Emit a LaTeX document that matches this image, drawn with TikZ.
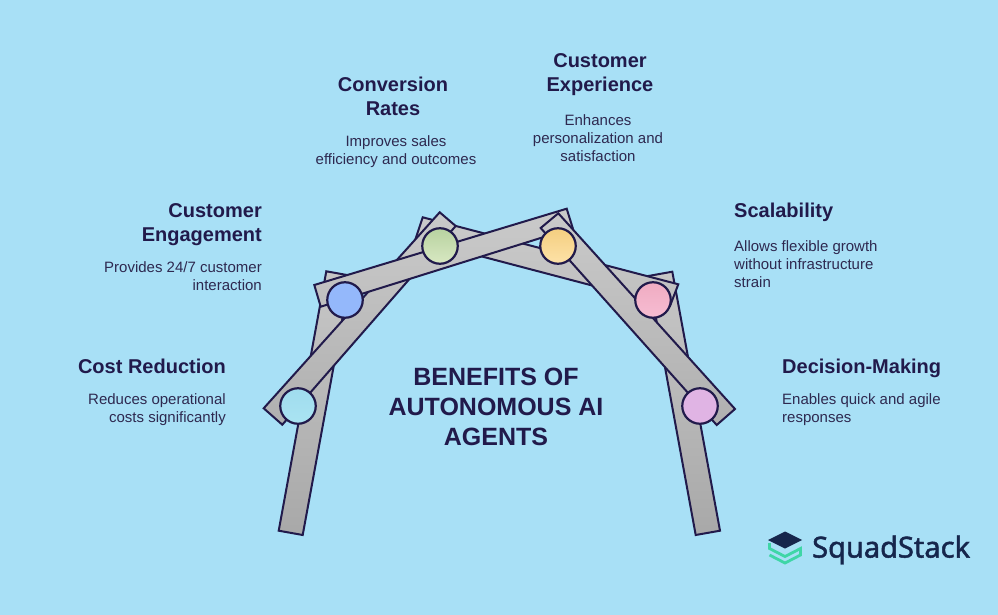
\documentclass[tikz,border=0pt]{standalone}
\usepackage{fontspec}
\setmainfont{Liberation Sans}
\newfontfamily\logofont[FakeBold=1.6]{Noto Sans}
\definecolor{skybg}{HTML}{A8E0F6}
\definecolor{inkdark}{HTML}{211A4B}
\definecolor{bodyink}{HTML}{2E2950}
\definecolor{logonavy}{HTML}{16264C}
\definecolor{logogreen}{HTML}{3FD6A6}
\definecolor{costtop}{HTML}{A0DCEE}
\definecolor{costbot}{HTML}{AAE4F2}
\definecolor{engagecol}{HTML}{94B8FB}
\definecolor{convtop}{HTML}{B8D2A0}
\definecolor{convbot}{HTML}{D8E8C2}
\definecolor{exptop}{HTML}{F4CE80}
\definecolor{expbot}{HTML}{FDE2A8}
\definecolor{scaletop}{HTML}{F0ACC2}
\definecolor{scalebot}{HTML}{F6BCD2}
\definecolor{deccol}{HTML}{E0B4E4}
\tikzset{>=stealth,
  bar/.style={draw=inkdark,line width=2pt},
  hinge/.style={circle,draw=inkdark,line width=2.2pt,minimum size=35.5pt,inner sep=0pt},
  headtext/.style={text=inkdark,font=\fontsize{20}{24}\selectfont\bfseries,inner sep=0pt},
  bodytext/.style={text=bodyink,font=\fontsize{15}{18}\selectfont,inner sep=0pt}
}
\begin{document}
\begin{tikzpicture}[x=1pt,y=-1pt]
    \useasboundingbox[fill=skybg] (0,0) rectangle (998,615);
    % bars, back to front
    \shade[bar,top color=black!22,bottom color=black!34] (326.3,271.3)--(350.3,275.6)--(302.7,535)--(278.7,530.7)--cycle;
    \shade[bar,top color=black!22,bottom color=black!34] (672.3,271.7)--(648.3,276)--(695.7,535)--(720,530.7)--cycle;
    \shade[bar,top color=black!21,bottom color=black!25] (422.7,217.3)--(678.3,284.3)--(670,306)--(415.5,239)--cycle;
    \shade[bar,top color=black!21,bottom color=black!31] (439.7,212.3)--(455.7,226)--(282.3,424.7)--(263.7,408.3)--cycle;
    \shade[bar,top color=black!21,bottom color=black!25] (314.3,285)--(566.7,208.7)--(572.7,228)--(320.7,306.7)--cycle;
    \shade[bar,top color=black!21,bottom color=black!31] (558.3,213.3)--(735,409)--(716.7,425)--(540.7,228)--cycle;
    % hinges
    \node[hinge,top color=costtop,bottom color=costbot] at (298,406) (costhinge) {};
    \node[hinge,fill=engagecol] at (345,300) (engagehinge) {};
    \node[hinge,top color=convtop,bottom color=convbot] at (440,246) (convhinge) {};
    \node[hinge,top color=exptop,bottom color=expbot] at (558,246) (exphinge) {};
    \node[hinge,top color=scaletop,bottom color=scalebot] at (653,300) (scalehinge) {};
    \node[hinge,fill=deccol] at (700,406) (dechinge) {};
    % left labels
    \node[headtext,anchor=base east] at (226,373) (costhead) {Cost Reduction};
    \node[bodytext,anchor=north east,align=right] at (226,393) (costbody) {Reduces operational\\costs significantly};
    \node[headtext,anchor=north east,align=right] at (262,203) (engagehead) {Customer\\Engagement};
    \node[bodytext,anchor=north east,align=right] at (262,261) (engagebody) {Provides 24/7 customer\\interaction};
    % top labels
    \node[headtext,anchor=north,align=center] at (393,77) (convhead) {Conversion\\Rates};
    \node[bodytext,anchor=north,align=center] at (396,135) (convbody) {Improves sales\\efficiency and outcomes};
    \node[headtext,anchor=north,align=center] at (600,53) (exphead) {Customer\\Experience};
    \node[bodytext,anchor=north,align=center] at (598,114) (expbody) {Enhances\\personalization and\\satisfaction};
    % right labels
    \node[headtext,anchor=base west] at (734,217) (scalehead) {Scalability};
    \node[bodytext,anchor=north west,align=left] at (734,240) (scalebody) {Allows flexible growth\\without infrastructure\\strain};
    \node[headtext,anchor=base west] at (782,373) (dechead) {Decision-Making};
    \node[bodytext,anchor=north west,align=left] at (782,393) (decbody) {Enables quick and agile\\responses};
    % title
    \node[text=inkdark,font=\fontsize{25}{30}\selectfont\bfseries,align=center,inner sep=0pt] at (496,407) (title) {BENEFITS OF\\AUTONOMOUS AI\\AGENTS};
    % logo
    \draw[logogreen,line width=2.8pt] (769.5,543)--(769.5,548.5)--(785,556.5)--(800.5,548.5)--(800.5,555)--(785,563)--(769.5,555);
    \fill[logonavy] (768,540)--(785,531.5)--(802,540)--(785,548.5)--cycle;
    \node[text=logonavy,font=\logofont\fontsize{29}{32}\selectfont,anchor=west,inner sep=0pt] at (812,550) (logotext) {SquadStack};
\end{tikzpicture}
\end{document}
